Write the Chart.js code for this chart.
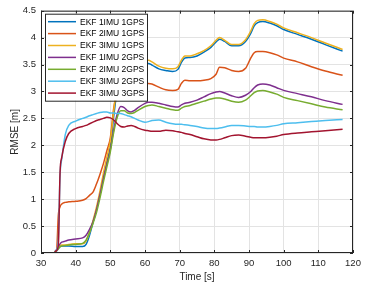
<!DOCTYPE html>
<html>
<head>
<meta charset="utf-8">
<script src="https://cdn.jsdelivr.net/npm/chart.js@4.4.1/dist/chart.umd.min.js"></script>
<style>
html, body { margin: 0; padding: 0; background: #fff; }
#wrap { width: 374px; height: 288px; }
</style>
</head>
<body>
<div id="wrap"><canvas id="chart"></canvas></div>
<script>
// time axis [s], shared by every series
const time = [34, 34.5, 35, 35.5, 36, 37, 38, 40, 42, 43, 44, 45, 46, 47, 48, 49, 50, 51, 52, 53,
    54, 55, 56, 57, 58, 60, 61, 62, 64, 66, 68, 69.5, 70.5, 71.5, 73, 75, 77, 79, 80.5, 81.5,
    83, 85, 87, 89, 90.5, 91.5, 92.5, 94, 96, 98, 100, 104, 108, 112, 117];

const names = ["EKF 1IMU 1GPS", "EKF 2IMU 1GPS", "EKF 3IMU 1GPS", "EKF 1IMU 2GPS",
    "EKF 2IMU 2GPS", "EKF 3IMU 2GPS", "EKF 3IMU 3GPS"];

const imu1gps1 = [0.02, 0.04, 0.08, 0.12, 0.13, 0.13, 0.13, 0.12, 0.12, 0.16, 0.33, 0.57, 0.80, 1.08, 1.40, 1.68, 1.97, 2.55, 3.05, 3.35,
    3.45, 3.46, 3.47, 3.48, 3.49, 3.51, 3.52, 3.49, 3.42, 3.39, 3.37, 3.41, 3.54, 3.62, 3.63, 3.66, 3.73, 3.82, 3.92, 3.97,
    3.93, 3.85, 3.85, 3.93, 4.08, 4.22, 4.28, 4.30, 4.27, 4.22, 4.15, 4.06, 3.97, 3.87, 3.75];
const imu2gps1 = [0.02, 0.05, 0.70, 0.86, 0.91, 0.94, 0.95, 0.96, 0.98, 1.01, 1.07, 1.13, 1.28, 1.46, 1.66, 1.90, 2.14, 2.70, 2.98, 3.05,
    3.05, 3.04, 3.05, 3.06, 3.08, 3.13, 3.15, 3.14, 3.08, 3.03, 3.02, 3.04, 3.15, 3.21, 3.20, 3.20, 3.21, 3.24, 3.32, 3.45,
    3.44, 3.39, 3.37, 3.43, 3.62, 3.72, 3.74, 3.74, 3.72, 3.68, 3.62, 3.55, 3.46, 3.38, 3.30];
const imu3gps1 = [0.02, 0.05, 0.10, 0.14, 0.15, 0.15, 0.16, 0.17, 0.17, 0.22, 0.38, 0.60, 0.85, 1.15, 1.48, 1.78, 2.08, 2.65, 3.15, 3.40,
    3.50, 3.51, 3.52, 3.53, 3.55, 3.57, 3.58, 3.55, 3.47, 3.43, 3.42, 3.46, 3.58, 3.66, 3.66, 3.70, 3.76, 3.85, 3.95, 4.00,
    3.95, 3.87, 3.87, 3.96, 4.12, 4.26, 4.32, 4.33, 4.30, 4.25, 4.18, 4.09, 4.00, 3.90, 3.78];
const imu1gps2 = [0.02, 0.06, 0.12, 0.17, 0.20, 0.22, 0.24, 0.26, 0.28, 0.33, 0.44, 0.58, 0.80, 1.08, 1.38, 1.65, 1.92, 2.30, 2.58, 2.72,
    2.70, 2.64, 2.62, 2.65, 2.70, 2.78, 2.80, 2.80, 2.78, 2.75, 2.72, 2.71, 2.75, 2.78, 2.80, 2.84, 2.90, 2.96, 2.99, 3.00,
    2.97, 2.92, 2.89, 2.93, 3.00, 3.07, 3.12, 3.14, 3.12, 3.07, 3.02, 2.96, 2.90, 2.83, 2.76];
const imu2gps2 = [0.02, 0.05, 0.08, 0.12, 0.13, 0.14, 0.15, 0.16, 0.18, 0.24, 0.38, 0.55, 0.75, 1.02, 1.32, 1.60, 1.88, 2.25, 2.52, 2.64,
    2.64, 2.60, 2.59, 2.61, 2.65, 2.72, 2.74, 2.75, 2.72, 2.69, 2.66, 2.65, 2.69, 2.72, 2.74, 2.78, 2.82, 2.86, 2.88, 2.88,
    2.86, 2.82, 2.80, 2.84, 2.92, 2.98, 3.01, 3.02, 2.99, 2.95, 2.89, 2.83, 2.77, 2.71, 2.66];
const imu3gps2 = [0.03, 0.06, 0.25, 1.45, 1.75, 2.20, 2.37, 2.45, 2.50, 2.52, 2.55, 2.57, 2.59, 2.61, 2.62, 2.62, 2.60, 2.60, 2.59, 2.59,
    2.57, 2.55, 2.53, 2.50, 2.47, 2.43, 2.44, 2.46, 2.47, 2.43, 2.40, 2.39, 2.39, 2.38, 2.37, 2.35, 2.32, 2.31, 2.31, 2.32,
    2.34, 2.37, 2.37, 2.36, 2.35, 2.35, 2.34, 2.34, 2.35, 2.37, 2.40, 2.42, 2.44, 2.46, 2.48];
const imu3gps3 = [0.02, 0.05, 0.15, 1.50, 1.78, 2.07, 2.22, 2.31, 2.35, 2.37, 2.40, 2.43, 2.46, 2.48, 2.50, 2.52, 2.51, 2.47, 2.40, 2.35,
    2.34, 2.36, 2.37, 2.35, 2.32, 2.28, 2.27, 2.26, 2.26, 2.28, 2.27, 2.25, 2.24, 2.22, 2.20, 2.16, 2.12, 2.10, 2.10, 2.11,
    2.14, 2.18, 2.19, 2.17, 2.15, 2.14, 2.14, 2.14, 2.15, 2.17, 2.20, 2.23, 2.25, 2.27, 2.30];

const xTicks = [30, 40, 50, 60, 70, 80, 90, 100, 110, 120];
const yTicks = [0, 0.5, 1, 1.5, 2, 2.5, 3, 3.5, 4, 4.5];

const series = [imu1gps1, imu2gps1, imu3gps1, imu1gps2, imu2gps2, imu3gps2, imu3gps3];
const colors = ["#0072BD", "#D95319", "#EDB120", "#7E2F8E", "#77AC30", "#4DBEEE", "#A2142F"];
const FONT = "'Liberation Sans', Arial, sans-serif";
const AXIS = "#262626";

// MATLAB-style box with inward tick marks
const boxPlugin = {
    id: "box",
    afterDatasetsDraw(chart) {
        const {ctx, chartArea: a, scales: {x, y}} = chart;
        ctx.save();
        ctx.strokeStyle = AXIS;
        ctx.lineWidth = 1;
        ctx.beginPath();
        for (let v of xTicks) {
            let px = Math.round(x.getPixelForValue(v)) + 0.5;
            ctx.moveTo(px, a.bottom); ctx.lineTo(px, a.bottom - 3);
            ctx.moveTo(px, a.top); ctx.lineTo(px, a.top + 3);
        }
        for (let v of yTicks) {
            let py = Math.round(y.getPixelForValue(v)) + 0.5;
            ctx.moveTo(a.left, py); ctx.lineTo(a.left + 3, py);
            ctx.moveTo(a.right, py); ctx.lineTo(a.right - 3, py);
        }
        ctx.stroke();
        ctx.strokeRect(a.left + 0.5, a.top + 0.5, a.right - a.left - 1, a.bottom - a.top - 1);
        ctx.restore();
    }
};

// legend box in the top left corner of the axes
const legendPlugin = {
    id: "boxLegend",
    afterDatasetsDraw(chart) {
        const {ctx, chartArea: a} = chart;
        const left = a.left + 4, top = a.top + 3, w = 102, h = 87;
        ctx.save();
        ctx.fillStyle = "#fff";
        ctx.fillRect(left, top, w, h);
        ctx.strokeStyle = AXIS;
        ctx.lineWidth = 1;
        ctx.strokeRect(left + 0.5, top + 0.5, w, h);
        ctx.font = "8.5px " + FONT;
        ctx.textBaseline = "middle";
        ctx.textAlign = "left";
        names.forEach((n, i) => {
            let yy = top + 8 + i * 11.9;
            ctx.strokeStyle = colors[i];
            ctx.lineWidth = 1.5;
            ctx.beginPath();
            ctx.moveTo(left + 3, yy);
            ctx.lineTo(left + 31, yy);
            ctx.stroke();
            ctx.fillStyle = "#000";
            ctx.fillText(n, left + 35, yy + 0.5);
        });
        ctx.restore();
    }
};

new Chart(document.getElementById("chart").getContext("2d"), {
    type: "line",
    data: {
        datasets: series.map((s, i) => ({
            label: names[i],
            data: s.map((v, k) => ({x: time[k], y: v})),
            borderColor: colors[i],
            backgroundColor: colors[i],
            borderWidth: 1.5,
            pointRadius: 0,
            cubicInterpolationMode: "monotone",
            order: series.length - i
        }))
    },
    options: {
        responsive: true,
        maintainAspectRatio: false,
        animation: false,
        events: [],
        layout: {padding: {top: 7, right: 21, left: 0, bottom: 0}},
        plugins: {legend: {display: false}, tooltip: {enabled: false}},
        scales: {
            x: {
                type: "linear",
                min: 30, max: 120,
                afterBuildTicks: s => { s.ticks = xTicks.map(v => ({value: v})); },
                afterFit: s => { s.height = 35; },
                grid: {color: "#e3e3e3", drawTicks: false},
                border: {display: false},
                ticks: {color: AXIS, font: {family: FONT, size: 9.5}, padding: 5, maxRotation: 0},
                title: {display: true, text: "Time [s]", color: AXIS, font: {family: FONT, size: 10}, padding: {top: 0, bottom: 5}}
            },
            y: {
                type: "linear",
                min: 0, max: 4.5,
                afterBuildTicks: s => { s.ticks = yTicks.map(v => ({value: v})); },
                afterFit: s => { s.width = 41; },
                grid: {color: "#e3e3e3", drawTicks: false},
                border: {display: false},
                ticks: {color: AXIS, font: {family: FONT, size: 9.5}, padding: 5, callback: v => String(v)},
                title: {display: true, text: "RMSE [m]", color: AXIS, font: {family: FONT, size: 10}, padding: {top: 9, bottom: 0}}
            }
        }
    },
    plugins: [boxPlugin, legendPlugin]
});
</script>
</body>
</html>
